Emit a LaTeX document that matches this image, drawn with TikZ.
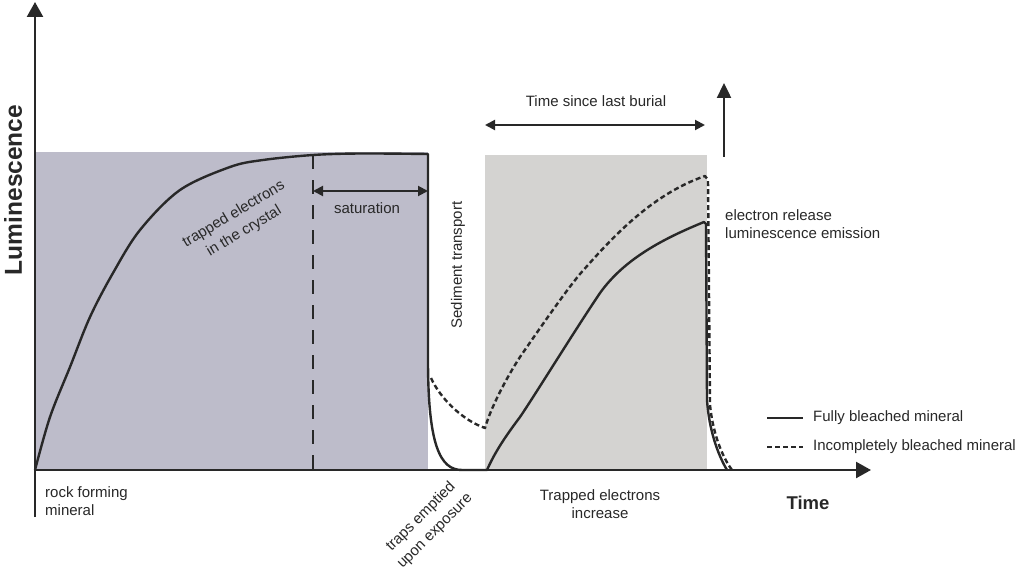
\documentclass[tikz,border=0pt]{standalone}
\usepackage{fontspec}
\setmainfont{Liberation Sans}
\usetikzlibrary{arrows.meta}
\definecolor{ink}{RGB}{40,40,40}
\definecolor{boxa}{RGB}{189,188,202}
\definecolor{boxb}{RGB}{212,211,209}
\begin{document}
\begin{tikzpicture}[x=1pt,y=-1pt,
  ln/.style={line width=2.4pt, draw=ink, line join=round},
  dsh/.style={ln, dash pattern=on 5pt off 3pt},
  lbl/.style={font=\fontsize{15}{18}\selectfont, text=ink, inner sep=0pt},
  rlbl/.style={lbl, font=\fontsize{15}{20}\selectfont},
  big/.style={-{Triangle[length=15pt,width=16pt]}},
  dbl/.style={{Triangle[length=10pt,width=10pt]}-{Triangle[length=10pt,width=10pt]}},
  ]
\useasboundingbox[fill=white] (0,0) rectangle (1024,572);
% shaded regions
\fill[boxa] (35,152) rectangle (428,470);
\fill[boxb] (485,155) rectangle (707,470);
% saturation dashed line
\draw[ln, dash pattern=on 14pt off 11pt] (313,155) -- (313,470);
% solid curve (fully bleached)
\draw[ln] plot[smooth, tension=0.55] coordinates {(35,470) (50,417) (70,367) (90,317) (113,273) (140,230) (180,190) (230,167) (263,160) (313,155) (360,153.5) (428,154)}
  -- (428,360) .. controls (428,445) and (440,470) .. (462,470) -- (487,470)
  .. controls (495,452) and (505,437) .. (520,417)
  .. controls (535,395) and (575,330) .. (600,293)
  .. controls (625,258) and (665,238) .. (704,222)
  -- (706,224) -- (707,400) .. controls (709,430) and (718,455) .. (727,470);
% dashed curve (incompletely bleached)
\draw[dsh] (431,378) .. controls (440,398) and (462,420) .. (485,428)
  .. controls (490,410) and (505,380) .. (520,357)
  .. controls (540,328) and (565,292) .. (580,274)
  .. controls (610,240) and (650,195) .. (705,176)
  -- (708,180) -- (710,405) .. controls (713,435) and (723,458) .. (732,470);
% axes
\coordinate (ybot) at (35,517);
\coordinate (ytop) at (35,2);
\coordinate (xl) at (35,470);
\coordinate (xr) at (871,470);
\draw[ln, big] (ybot) -- (ytop);
\draw[ln, big] (xl) -- (xr);
% arrows
\coordinate (sa) at (313,191);
\coordinate (sb) at (428,191);
\draw[ln, line width=2pt, dbl] (sa) -- (sb);
\coordinate (ba) at (485,125);
\coordinate (bb) at (705,125);
\draw[ln, line width=2pt, dbl] (ba) -- (bb);
\coordinate (ua) at (724,157);
\coordinate (ub) at (724,83);
\draw[ln, line width=2.4pt, -{Triangle[length=15pt,width=14pt]}] (ua) -- (ub);
% legend
\coordinate (l1a) at (767,418);
\coordinate (l1b) at (803,418);
\draw[ln] (l1a) -- (l1b);
\coordinate (l2a) at (767,447);
\coordinate (l2b) at (803,447);
\draw[dsh] (l2a) -- (l2b);
\node[lbl, anchor=west] (leg1) at (813,418) {Fully bleached mineral};
\node[lbl, anchor=west] (leg2) at (813,447) {Incompletely bleached mineral};
% labels
\node[lbl, font=\fontsize{24.5}{28}\selectfont\bfseries, rotate=90] (ylab) at (13,190) {Luminescence};
\node[lbl, font=\fontsize{18.5}{22}\selectfont\bfseries] (xlab) at (808,503) {Time};
\node[lbl, align=left, anchor=north west] (rock) at (45,486) {rock forming\\mineral};
\node[rlbl, align=center, rotate=45] (traps) at (428,524) {traps emptied\\upon exposure};
\node[rlbl, align=center, rotate=31] (trapped) at (239,223) {trapped electrons\\in the crystal};
\node[lbl] (sat) at (367,208) {saturation};
\node[lbl, rotate=90] (sed) at (458,265) {Sediment transport};
\node[lbl] (tslb) at (596,101) {Time since last burial};
\node[lbl, align=left, anchor=west] (rel) at (725,224) {electron release\\luminescence emission};
\node[lbl, align=center] (inc) at (600,504) {Trapped electrons\\increase};
\end{tikzpicture}
\end{document}
